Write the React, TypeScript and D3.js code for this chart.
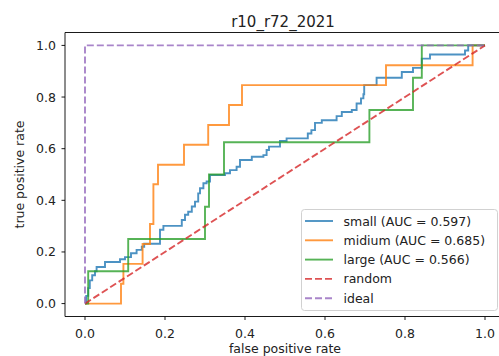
import React from "react";
import * as d3 from "d3";

// step corners: [fpr where tpr jumps, new tpr]
const smallFpr = [
  0, 0.003, 0.008, 0.012, 0.018, 0.025, 0.029, 0.05, 0.0875, 0.1, 0.115, 0.129,
  0.142, 0.148, 0.1875, 0.196, 0.242, 0.25, 0.258, 0.267, 0.275, 0.283, 0.2875,
  0.296, 0.304, 0.3125, 0.35, 0.3625, 0.379, 0.3875, 0.417, 0.446, 0.454, 0.46,
  0.4875, 0.504, 0.557, 0.566, 0.575, 0.575, 0.592, 0.629, 0.642, 0.667, 0.679,
  0.69, 0.696, 0.698, 0.729, 0.792, 0.82, 0.842, 0.8625, 0.95, 0.958, 1,
];
const smallTpr = [
  0, 0.03, 0.06, 0.09, 0.11, 0.125, 0.142, 0.161, 0.172, 0.18, 0.195, 0.208,
  0.22, 0.232, 0.286, 0.301, 0.324, 0.344, 0.356, 0.376, 0.395, 0.427, 0.447,
  0.466, 0.473, 0.498, 0.505, 0.517, 0.53, 0.556, 0.569, 0.575, 0.595, 0.608,
  0.63, 0.64, 0.659, 0.672, 0.685, 0.7, 0.71, 0.726, 0.742, 0.75, 0.775, 0.795,
  0.811, 0.846, 0.875, 0.897, 0.913, 0.949, 0.965, 0.98, 1, 1,
];

const midiumFpr = [
  0, 0.09, 0.096, 0.144, 0.1625, 0.171, 0.1825, 0.2475, 0.308, 0.36, 0.3925,
  0.7525, 0.969, 1,
];
const midiumTpr = [
  0, 0.077, 0.154, 0.231, 0.308, 0.462, 0.538, 0.615, 0.692, 0.769, 0.846,
  0.923, 1, 1,
];

const largeFpr = [0, 0.008, 0.108, 0.3, 0.31, 0.3475, 0.711, 0.82, 0.842, 1];
const largeTpr = [0, 0.125, 0.25, 0.375, 0.5, 0.625, 0.75, 0.875, 1, 1];

const randomFpr = [0, 1];
const randomTpr = [0, 1];
const idealFpr = [0, 0, 1];
const idealTpr = [0, 1, 1];

const labels = [
  "small (AUC = 0.597)",
  "midium (AUC = 0.685)",
  "large (AUC = 0.566)",
  "random",
  "ideal",
];
const colors = ["#1f77b4", "#ff7f0e", "#2ca02c", "#d62728", "#9467bd"];
const ticks = [0, 0.2, 0.4, 0.6, 0.8, 1.0];

const W = 499;
const H = 356;
const left = 65;
const right = 505;
const top = 32.5;
const bottom = 316.5;
const font = "DejaVu Sans, sans-serif";
const lw = 1.9;
const dash = "7,3";

export default function App() {
  const x = d3.scaleLinear().domain([-0.05, 1.05]).range([left, right]);
  const y = d3.scaleLinear().domain([-0.05, 1.05]).range([bottom, top]);

  const series = [
    { xs: smallFpr, ys: smallTpr, dash: false },
    { xs: midiumFpr, ys: midiumTpr, dash: false },
    { xs: largeFpr, ys: largeTpr, dash: false },
    { xs: randomFpr, ys: randomTpr, dash: true },
    { xs: idealFpr, ys: idealTpr, dash: true },
  ];

  const stepLine = d3
    .line<[number, number]>()
    .x((d) => x(d[0]))
    .y((d) => y(d[1]))
    .curve(d3.curveStepAfter);
  const straight = d3
    .line<[number, number]>()
    .x((d) => x(d[0]))
    .y((d) => y(d[1]));

  const lgX = 301.5;
  const lgY = 209.5;
  const lgW = 196;
  const lgH = 101;
  const rowH = 19.3;

  return (
    <svg
      width={W}
      height={H}
      style={{ position: "absolute", left: 0, top: 0, background: "#fff" }}
      fontFamily={font}
    >
      <rect x={0} y={0} width={W} height={H} fill="#fff" />
      {series.map((s, i) => {
        const pts = s.xs.map((v, k) => [v, s.ys[k]] as [number, number]);
        const gen = s.dash ? straight : stepLine;
        return (
          <path
            key={i}
            d={gen(pts) ?? ""}
            fill="none"
            stroke={colors[i]}
            strokeOpacity={0.8}
            strokeWidth={lw}
            strokeDasharray={s.dash ? dash : undefined}
          />
        );
      })}

      {/* spines */}
      <line x1={left} x2={left} y1={top} y2={bottom} stroke="#000" strokeWidth={0.9} />
      <line x1={left} x2={right} y1={bottom} y2={bottom} stroke="#000" strokeWidth={0.9} />
      <line x1={left} x2={right} y1={top} y2={top} stroke="#000" strokeWidth={0.9} />
      <line x1={right} x2={right} y1={top} y2={bottom} stroke="#000" strokeWidth={0.9} />

      {/* x ticks */}
      {ticks.map((t) => (
        <g key={"x" + t}>
          <line x1={x(t)} x2={x(t)} y1={bottom} y2={bottom + 3.5} stroke="#000" strokeWidth={0.9} />
          <text x={x(t)} y={337.5} textAnchor="middle" fontSize={12.5} fill="#222">
            {t.toFixed(1)}
          </text>
        </g>
      ))}
      {/* y ticks */}
      {ticks.map((t) => (
        <g key={"y" + t}>
          <line x1={left - 3.5} x2={left} y1={y(t)} y2={y(t)} stroke="#000" strokeWidth={0.9} />
          <text x={56} y={y(t) + 4.5} textAnchor="end" fontSize={12.5} fill="#222">
            {t.toFixed(1)}
          </text>
        </g>
      ))}

      <text x={285} y={353} textAnchor="middle" fontSize={12.5} fill="#222">
        false positive rate
      </text>
      <text
        transform={`translate(24,${(top + bottom) / 2}) rotate(-90)`}
        textAnchor="middle"
        fontSize={12.5}
        fill="#222"
      >
        true positive rate
      </text>
      <text x={283} y={26.5} textAnchor="middle" fontSize={15} fill="#222">
        r10_r72_2021
      </text>

      {/* legend */}
      <rect
        x={lgX}
        y={lgY}
        width={lgW}
        height={lgH}
        rx={3}
        fill="#fff"
        fillOpacity={0.8}
        stroke="#ccc"
        strokeWidth={0.9}
      />
      {labels.map((lab, i) => {
        const cy = lgY + 11.5 + i * rowH;
        return (
          <g key={lab}>
            <line
              x1={305}
              x2={333}
              y1={cy}
              y2={cy}
              stroke={colors[i]}
              strokeOpacity={0.8}
              strokeWidth={lw}
              strokeDasharray={i >= 3 ? dash : undefined}
            />
            <text x={343.5} y={cy + 4.5} fontSize={12.5} fill="#222">
              {lab}
            </text>
          </g>
        );
      })}
    </svg>
  );
}
